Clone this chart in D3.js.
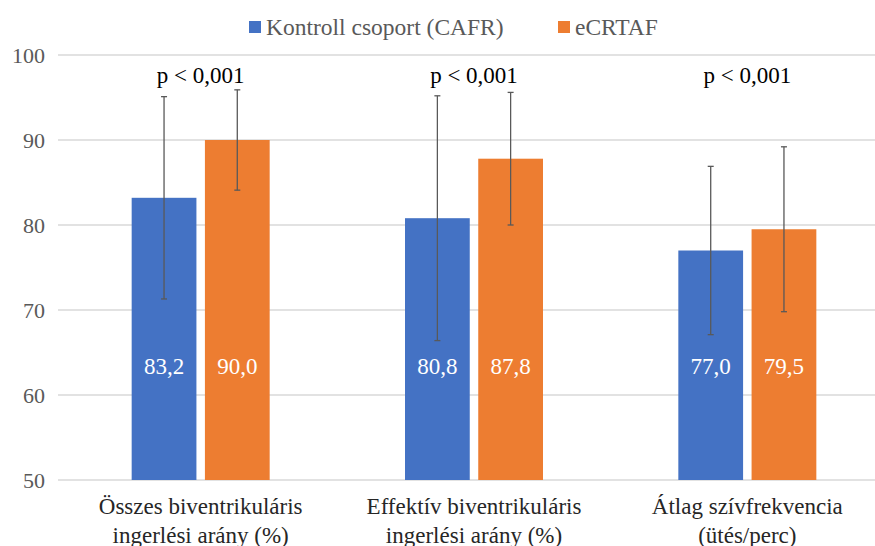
<!DOCTYPE html>
<html><head><meta charset="utf-8">
<script src="https://cdn.jsdelivr.net/npm/d3@7"></script>
<style>body{margin:0;background:#fff}svg{display:block}</style>
</head><body><svg id="c" width="875" height="546"></svg>
<script>
const categories = [["Összes biventrikuláris","ingerlési arány (%)"],["Effektív biventrikuláris","ingerlési arány (%)"],["Átlag szívfrekvencia","(ütés/perc)"]];
const seriesNames = ["Kontroll csoport (CAFR)","eCRTAF"];
const controlValues = [83.2, 80.8, 77.0];
const ecrtafValues = [90.0, 87.8, 79.5];
const controlErr = [11.9, 14.4, 9.9];
const ecrtafErr = [5.9, 7.8, 9.7];
const valueLabels = [["83,2","90,0"],["80,8","87,8"],["77,0","79,5"]];
const pLabels = ["p < 0,001","p < 0,001","p < 0,001"];
const yTicks = [50,60,70,80,90,100];
const colors = ["#4472C4","#ED7D31"];
const FONT = '"Liberation Serif","Times New Roman",serif';

const svg = d3.select("#c");
const y = d3.scaleLinear().domain([50,100]).range([480,55]);
const x0 = d3.scaleBand().domain([0,1,2]).range([64,884]).paddingInner(0).paddingOuter(0);
const x1 = d3.scaleBand().domain([0,1]).range([0,138]).paddingInner(16/138);
const off = (x0.bandwidth()-138)/2;

// gridlines
svg.append("g").selectAll("line").data(yTicks).join("line")
  .attr("x1",58).attr("x2",875).attr("y1",d=>y(d)).attr("y2",d=>y(d))
  .attr("stroke","#d9d9d9").attr("stroke-width",1.3);
// y axis labels
const yAxis = d3.axisLeft(y).tickValues(yTicks).tickSize(0).tickPadding(0);
const ga = svg.append("g").attr("transform","translate(45,0)").call(yAxis);
ga.select(".domain").remove();
ga.selectAll("text").style("font-family",FONT).style("font-size","22px").attr("fill","#595959").attr("dy","0.35em");

const data = [0,1,2].map(i=>({i, vals:[controlValues[i],ecrtafValues[i]], errs:[controlErr[i],ecrtafErr[i]]}));
const groups = svg.append("g").selectAll("g").data(data).join("g")
  .attr("transform",d=>`translate(${x0(d.i)+off},0)`);
const bars = groups.selectAll("g.b").data(d=>d.vals.map((v,s)=>({v,s,e:d.errs[s],i:d.i}))).join("g").attr("class","b");
bars.append("rect").attr("x",d=>x1(d.s)).attr("width",x1.bandwidth())
  .attr("y",d=>y(d.v)).attr("height",d=>y(50)-y(d.v)).attr("fill",d=>colors[d.s]);
bars.append("text").attr("x",d=>x1(d.s)+x1.bandwidth()/2).attr("y",y(63.4)).attr("dy","0.35em")
  .attr("text-anchor","middle").attr("fill","#fff").style("font-family",FONT).style("font-size","23px").text(d=>valueLabels[d.i][d.s]);
const eb = bars.append("g").attr("stroke","#595959").attr("stroke-width",1.3);
eb.append("line").attr("x1",d=>x1(d.s)+x1.bandwidth()/2).attr("x2",d=>x1(d.s)+x1.bandwidth()/2)
  .attr("y1",d=>y(d.v+d.e)).attr("y2",d=>y(d.v-d.e));
eb.append("line").attr("x1",d=>x1(d.s)+x1.bandwidth()/2-3).attr("x2",d=>x1(d.s)+x1.bandwidth()/2+3)
  .attr("y1",d=>y(d.v+d.e)).attr("y2",d=>y(d.v+d.e));
eb.append("line").attr("x1",d=>x1(d.s)+x1.bandwidth()/2-3).attr("x2",d=>x1(d.s)+x1.bandwidth()/2+3)
  .attr("y1",d=>y(d.v-d.e)).attr("y2",d=>y(d.v-d.e));

// p labels
svg.append("g").selectAll("text").data(pLabels).join("text")
  .attr("x",(d,i)=>x0(i)+x0.bandwidth()/2).attr("y",y(97.6)).attr("dy","0.35em")
  .attr("text-anchor","middle").style("font-family",FONT).style("font-size","23px").attr("fill","#000").text(d=>d);

// category labels
const cl = svg.append("g").selectAll("text").data(categories).join("text")
  .attr("x",(d,i)=>x0(i)+x0.bandwidth()/2).attr("y",514)
  .attr("text-anchor","middle").style("font-family",FONT).style("font-size","23px").attr("fill","#262626");
cl.selectAll("tspan").data(d=>d).join("tspan").attr("x",function(){return this.parentNode.getAttribute("x")})
  .attr("dy",(d,j)=>j?29:0).text(d=>d);

// legend
const lg = svg.append("g");
const legX = [249,558];
seriesNames.forEach((n,s)=>{
  lg.append("rect").attr("x",legX[s]).attr("y",21).attr("width",12).attr("height",12).attr("fill",colors[s]);
  lg.append("text").attr("x",legX[s]+17).attr("y",27).attr("dy","0.35em").style("font-family",FONT).style("font-size","23.5px").attr("fill","#595959").text(n);
});
</script></body></html>
